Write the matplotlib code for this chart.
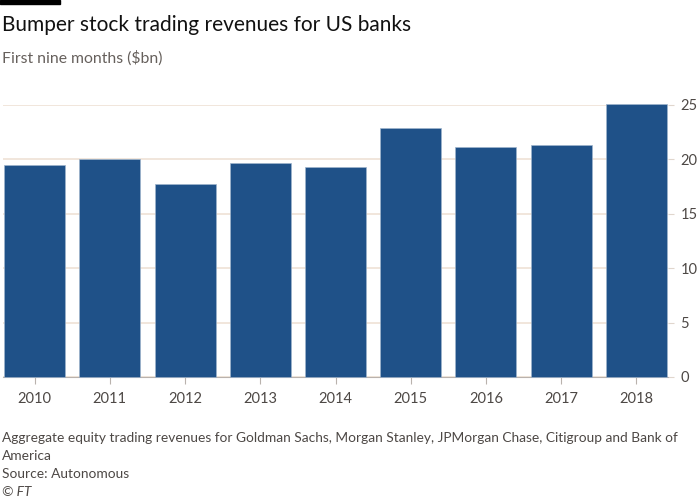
import matplotlib
matplotlib.use("Agg")
import matplotlib.pyplot as plt

years = ["2010", "2011", "2012", "2013", "2014", "2015", "2016", "2017", "2018"]
revenues = [19.5, 20.0, 17.7, 19.7, 19.3, 22.9, 21.1, 21.3, 25.1]
yticks = [0, 5, 10, 15, 20, 25]

plt.rcParams['font.family'] = ['Lato', 'DejaVu Sans']

fig = plt.figure(figsize=(7, 5), dpi=100)
fig.patch.set_facecolor("white")

ax = fig.add_axes([3/700, 1 - 377/500, (668 - 3)/700, (377 - 105)/500])
x = list(range(len(years)))
ax.bar(x, revenues, width=0.81, color="#1F5188", edgecolor="#9fb4cc", linewidth=0.5,
       zorder=3, clip_on=False)
ax.set_xlim(-0.42, 8.42)
ax.set_ylim(0, 25)
ax.set_yticks(yticks)
ax.set_yticklabels([str(v) for v in yticks])
ax.yaxis.tick_right()
ax.grid(axis="y", color="#EFE2D6", linewidth=1.2, zorder=0)
ax.set_xticks(x)
ax.set_xticklabels(years)
for s in ["top", "left", "right"]:
    ax.spines[s].set_visible(False)
ax.spines["bottom"].set_color("#B9B2AD")
ax.spines["bottom"].set_linewidth(0.8)
ax.tick_params(axis="x", length=5, color="#B9B2AD", labelsize=10.5, labelcolor="#4D4845", pad=6)
ax.tick_params(axis="y", length=4, color="#E0D6CD", labelsize=10.5, labelcolor="#4D4845", pad=5)
ax.set_facecolor("white")

fig.add_artist(plt.Rectangle((0, 1 - 4/500), 60/700, 4/500, color="black", transform=fig.transFigure))
fig.text(2/700, 1 - 25/500, "Bumper stock trading revenues for US banks", fontsize=15,
         color="#111111", va="center", ha="left")
fig.text(2/700, 1 - 58/500, "First nine months ($bn)", fontsize=11.3,
         color="#66605C", va="center", ha="left")
foot = ["Aggregate equity trading revenues for Goldman Sachs, Morgan Stanley, JPMorgan Chase, Citigroup and Bank of",
        "America", "Source: Autonomous"]
for i, line in enumerate(foot):
    fig.text(2/700, 1 - (438 + 18*i)/500, line, fontsize=9.9, color="#4D4845", va="center", ha="left")
fig.text(2/700, 1 - 492/500, "© FT", fontsize=9.9, color="#4D4845", va="center", ha="left", style="italic")

fig.savefig("out.png", dpi=100, facecolor="white")
